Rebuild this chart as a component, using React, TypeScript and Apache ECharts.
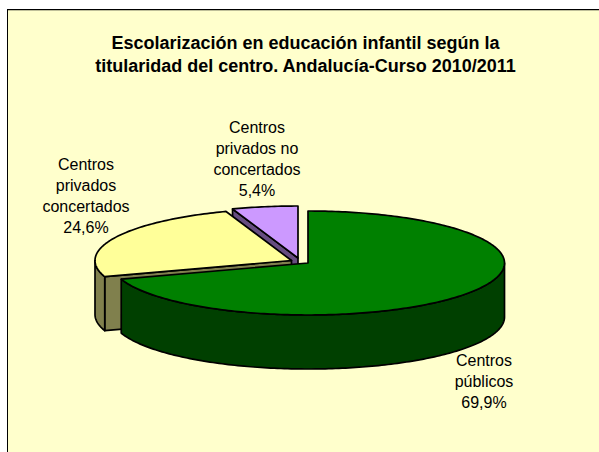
import React, { useEffect, useRef } from "react";
import * as echarts from "echarts";

const titleLines = [
  "Escolarización en educación infantil según la",
  "titularidad del centro. Andalucía-Curso 2010/2011",
];
const categories = ["Centros públicos", "Centros privados concertados", "Centros privados no concertados"];
const values = [69.9, 24.6, 5.4];
const labelLines = [
  ["Centros", "públicos", "69,9%"],
  ["Centros", "privados", "concertados", "24,6%"],
  ["Centros", "privados no", "concertados", "5,4%"],
];
const topColors = ["#008000", "#FFFF99", "#CC99FF"];
const wallColors = ["#004000", "#80804D", "#664D80"];
const centers = [[308, 263], [291.5, 260.5], [298, 258]];
const labelPos = [[484, 381], [86, 196], [257, 158.5]];
const drawOrder = [2, 1, 0];

const RX = 196.5, RY = 52, DEPTH = 54;
const total = values.reduce((a, b) => a + b, 0);

function pt(c: number[], deg: number, dy = 0): number[] {
  const a = (deg * Math.PI) / 180;
  return [c[0] + RX * Math.sin(a), c[1] - RY * Math.cos(a) + dy];
}
function arc(c: number[], from: number, to: number, dy = 0): number[][] {
  const out: number[][] = [];
  const n = Math.max(2, Math.ceil(Math.abs(to - from)));
  for (let i = 0; i <= n; i++) out.push(pt(c, from + ((to - from) * i) / n, dy));
  return out;
}
function sliceRange(idx: number): [number, number] {
  let s = 0;
  for (let i = 0; i < idx; i++) s += values[i];
  return [(s / total) * 360, ((s + values[idx]) / total) * 360];
}

const renderItem = (params: any) => {
  const idx = drawOrder[params.dataIndex];
  const [start, end] = sliceRange(idx);
  const c = centers[idx];
  const stroke = { stroke: "#000", lineWidth: 1.7, lineJoin: "round" };
  const children: any[] = [];
  const wall = (pts: number[][]) =>
    children.push({ type: "polygon", shape: { points: pts }, style: { fill: wallColors[idx], ...stroke } });
  const apexTop = [c[0], c[1]];
  const apexBot = [c[0], c[1] + DEPTH];
  // cut faces: only those turned towards the viewer
  if (Math.sin((start * Math.PI) / 180) < -1e-6) wall([apexTop, pt(c, start), pt(c, start, DEPTH), apexBot]);
  if (Math.sin((end * Math.PI) / 180) > 1e-6) wall([apexTop, pt(c, end), pt(c, end, DEPTH), apexBot]);
  // outer wall, front half of the ellipse only
  const wFrom = Math.max(start, 90);
  const wTo = Math.min(end, 270);
  if (wTo > wFrom) {
    wall([...arc(c, wFrom, wTo), ...arc(c, wTo, wFrom, DEPTH)]);
  }
  children.push({
    type: "polygon",
    shape: { points: [apexTop, ...arc(c, start, end)] },
    style: { fill: topColors[idx], ...stroke },
  });
  return { type: "group", children };
};

export default function App() {
  const ref = useRef<HTMLDivElement>(null);
  useEffect(() => {
    const chart = echarts.init(ref.current!, null, { renderer: "svg" });
    const font = "Liberation Sans, Arial, sans-serif";
    chart.setOption({
      animation: false,
      backgroundColor: "#ffffff",
      graphic: [
        {
          type: "rect",
          silent: true,
          z: 0,
          shape: { x: 7, y: 9, width: 592, height: 443 },
          style: { fill: "#FFFFCC" },
        },
        {
          type: "line",
          silent: true,
          z: 1,
          shape: { x1: 7, y1: 9.65, x2: 599, y2: 9.65 },
          style: { stroke: "#000", lineWidth: 1.3 },
        },
        {
          type: "line",
          silent: true,
          z: 1,
          shape: { x1: 7.5, y1: 9, x2: 7.5, y2: 452 },
          style: { stroke: "#000", lineWidth: 1 },
        },
        ...titleLines.map((t, i) => ({
          type: "text",
          z: 5,
          x: 305.5,
          y: 43 + i * 23,
          style: { text: t, fill: "#000", font: `bold 18px ${font}`, align: "center", verticalAlign: "middle" },
        })),
        ...labelLines.flatMap((lines, k) =>
          lines.map((t, i) => ({
            type: "text",
            z: 5,
            x: labelPos[k][0],
            y: labelPos[k][1] + (i - (lines.length - 1) / 2) * 21,
            style: { text: t, fill: "#000", font: `16px ${font}`, align: "center", verticalAlign: "middle" },
          }))
        ),
      ],
      series: [
        {
          type: "custom",
          coordinateSystem: "none",
          silent: true,
          z: 2,
          renderItem,
          data: drawOrder.map((i) => ({ name: categories[i], value: values[i] })),
        },
      ],
    });
    return () => chart.dispose();
  }, []);
  return <div ref={ref} style={{ position: "absolute", left: 0, top: 0, width: 599, height: 452 }} />;
}
